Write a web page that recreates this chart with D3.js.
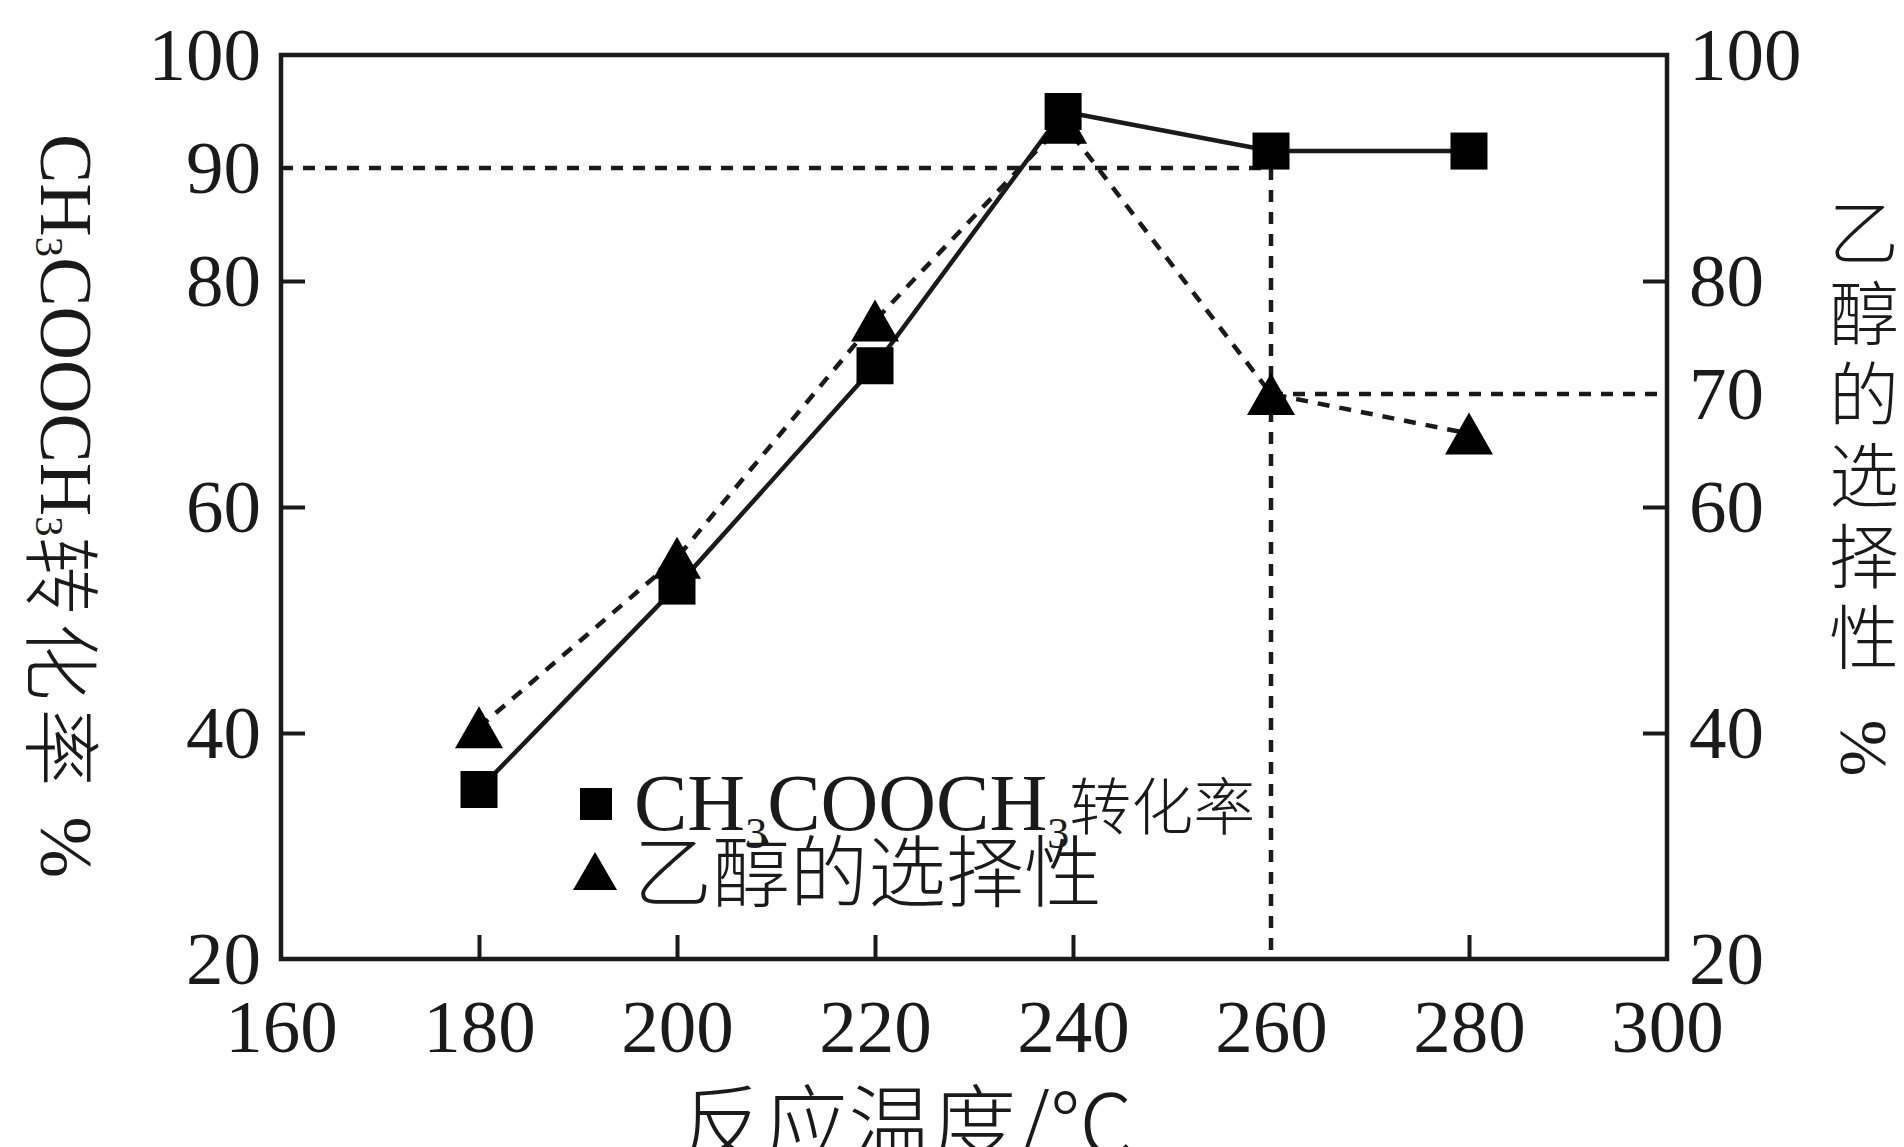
<!DOCTYPE html>
<html>
<head>
<meta charset="utf-8">
<script src="https://cdn.jsdelivr.net/npm/d3@7"></script>
<style>
body { margin: 0; background: #fff; }
text { fill: #1a1a1a; font-family: "Liberation Serif", "Noto Sans CJK SC", serif; }
.cjk { font-family: "Noto Sans CJK SC", sans-serif; font-weight: 300; }
</style>
</head>
<body>
<script>
// data
var temps       = [180, 200, 220, 239, 260, 280];
var conversion  = [35, 53, 72.5, 95, 91.5, 91.5];    // CH3COOCH3 转化率, left axis
var selectivity = [40.5, 55.5, 76.5, 94, 70, 66.5];  // 乙醇的选择性, right axis
var xTicks     = [160, 180, 200, 220, 240, 260, 280, 300];
var leftTicks  = [100, 90, 80, 60, 40, 20];
var rightTicks = [100, 80, 70, 60, 40, 20];
var refTemp = 260, refConv = 90, refSel = 70;

var width  = 1904,
    height = 1147,
    ink    = '#1a1a1a';

var plotL = 281, plotR = 1667, plotT = 55, plotB = 959;

var x  = d3.scaleLinear().domain([160, 300]).range([plotL, plotR]);
var yL = d3.scaleLinear().domain([20, 100]).range([plotB, plotT]);
var yR = d3.scaleLinear().domain([20, 100]).range([plotB, plotT]);

var svg = d3.select('body')
    .append('svg')
    .attr('width', width)
    .attr('height', height);

// axes, ticks pointing inward
function styleAxis(g, skip) {
    g.select('.domain').remove();
    g.selectAll('.tick line')
        .attr('stroke', ink)
        .attr('stroke-width', 4)
        .filter(function(d) { return skip.indexOf(d) >= 0; })
        .remove();
    g.selectAll('.tick text')
        .attr('fill', ink)
        .style('font-size', '75px')
        .style('font-family', '"Liberation Serif", serif');
}

svg.append('g')
    .attr('transform', 'translate(0,' + plotB + ')')
    .call(d3.axisBottom(x).tickValues(xTicks).tickSize(-24).tickPadding(40).tickFormat(d3.format('d')))
    .call(styleAxis, [160, 260, 300]);

svg.append('g')
    .attr('transform', 'translate(' + plotL + ',0)')
    .call(d3.axisLeft(yL).tickValues(leftTicks).tickSize(-24).tickPadding(20).tickFormat(d3.format('d')))
    .call(styleAxis, [100, 90, 20]);

svg.append('g')
    .attr('transform', 'translate(' + plotR + ',0)')
    .call(d3.axisRight(yR).tickValues(rightTicks).tickSize(-24).tickPadding(22).tickFormat(d3.format('d')))
    .call(styleAxis, [100, 70, 20]);

// frame
svg.append('rect')
    .attr('x', plotL).attr('y', plotT)
    .attr('width', plotR - plotL).attr('height', plotB - plotT)
    .attr('fill', 'none')
    .attr('stroke', ink)
    .attr('stroke-width', 4.5);

// dashed guide lines
var dash = '12,10';
var guides = [
    [[160, yL(refConv)], [refTemp, yL(refConv)]],
    [[refTemp, yL(refConv)], [refTemp, plotB]],
    [[refTemp, yR(refSel)], [300, yR(refSel)]]
];
svg.append('g').selectAll('line')
    .data(guides)
    .enter().append('line')
    .attr('x1', function(d) { return x(d[0][0]); })
    .attr('y1', function(d) { return d[0][1]; })
    .attr('x2', function(d) { return x(d[1][0]); })
    .attr('y2', function(d) { return d[1][1]; })
    .attr('stroke', ink)
    .attr('stroke-width', 4.5)
    .attr('stroke-dasharray', dash);

var convPts = temps.map(function(t, i) { return [x(t), yL(conversion[i])]; });
var selPts  = temps.map(function(t, i) { return [x(t), yR(selectivity[i])]; });

var line = d3.line();

svg.append('path')
    .attr('d', line(selPts))
    .attr('fill', 'none')
    .attr('stroke', ink)
    .attr('stroke-width', 4.5)
    .attr('stroke-dasharray', dash);

svg.append('path')
    .attr('d', line(convPts))
    .attr('fill', 'none')
    .attr('stroke', ink)
    .attr('stroke-width', 4.5);

// markers
function trianglePath(w, h) {
    return 'M0,' + (-h / 2) + 'L' + (w / 2) + ',' + (h / 2) + 'L' + (-w / 2) + ',' + (h / 2) + 'Z';
}

svg.append('g').selectAll('path')
    .data(selPts)
    .enter().append('path')
    .attr('d', trianglePath(48, 42))
    .attr('transform', function(d) { return 'translate(' + d[0] + ',' + d[1] + ')'; })
    .attr('fill', '#000');

var sq = 37;
svg.append('g').selectAll('rect')
    .data(convPts)
    .enter().append('rect')
    .attr('x', function(d) { return d[0] - sq / 2; })
    .attr('y', function(d) { return d[1] - sq / 2; })
    .attr('width', sq)
    .attr('height', sq)
    .attr('fill', '#000');

// legend
svg.append('rect')
    .attr('x', 596 - 16).attr('y', 804 - 16)
    .attr('width', 32).attr('height', 32)
    .attr('fill', '#000');
svg.append('path')
    .attr('d', trianglePath(44, 38))
    .attr('transform', 'translate(595,871)')
    .attr('fill', '#000');

function formula(sel, size) {
    sel.append('tspan').text('CH');
    sel.append('tspan').text('3').style('font-size', (size * 0.55) + 'px').attr('dy', size * 0.22);
    sel.append('tspan').text('COOCH').attr('dy', -size * 0.22);
    sel.append('tspan').text('3').style('font-size', (size * 0.55) + 'px').attr('dy', size * 0.22);
}

var lg1 = svg.append('text')
    .attr('x', 634).attr('y', 830)
    .style('font-size', '80px');
formula(lg1, 80);
lg1.append('tspan').attr('class', 'cjk').attr('dy', -80 * 0.22)
    .style('font-size', '62px').text('转化率');

svg.append('text')
    .attr('class', 'cjk')
    .attr('x', 634).attr('y', 901)
    .style('font-size', '78px')
    .text('乙醇的选择性');

// left axis title, rotated
var lt = svg.append('text')
    .attr('transform', 'translate(66,134) rotate(90)')
    .attr('dominant-baseline', 'central')
    .style('font-size', '74px');
formula(lt, 74);
lt.append('tspan').attr('class', 'cjk').attr('dy', -74 * 0.22)
    .style('font-size', '78px').style('letter-spacing', '8px').text('转化率');
lt.append('tspan').attr('dx', 22).text('%');

// right axis title, stacked upright
var rightTitle = ['乙', '醇', '的', '选', '择', '性'];
svg.append('g').selectAll('text')
    .data(rightTitle)
    .enter().append('text')
    .attr('class', 'cjk')
    .attr('x', 1864)
    .attr('y', function(d, i) { return 228 + i * 81; })
    .attr('text-anchor', 'middle')
    .attr('dominant-baseline', 'central')
    .style('font-size', '70px')
    .text(function(d) { return d; });
svg.append('text')
    .attr('transform', 'translate(1864,748) rotate(90)')
    .attr('text-anchor', 'middle')
    .attr('dominant-baseline', 'central')
    .style('font-size', '68px')
    .text('%');

// x axis title
svg.append('text')
    .attr('class', 'cjk')
    .attr('x', 907).attr('y', 1155)
    .attr('text-anchor', 'middle')
    .style('font-size', '84px')
    .text('反应温度/℃');
</script>
</body>
</html>
